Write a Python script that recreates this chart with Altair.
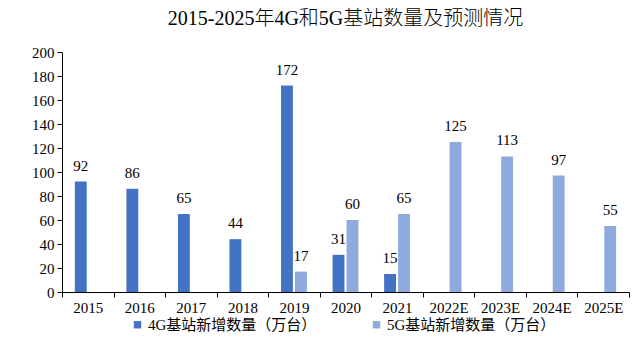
import altair as alt
import pandas as pd

years = ["2015", "2016", "2017", "2018", "2019", "2020", "2021", "2022E", "2023E", "2024E", "2025E"]
series_4g = "4G基站新增数量（万台）"
series_5g = "5G基站新增数量（万台）"
values_4g = [92, 86, 65, 44, 172, 31, 15, None, None, None, None]
values_5g = [None, None, None, None, 17, 60, 65, 125, 113, 97, 55]
y_ticks = [0, 20, 40, 60, 80, 100, 120, 140, 160, 180, 200]

rows = []
for y, a, b in zip(years, values_4g, values_5g):
    if a is not None:
        rows.append({"year": y, "series": series_4g, "value": a})
    if b is not None:
        rows.append({"year": y, "series": series_5g, "value": b})
df = pd.DataFrame(rows)

FONT = "Liberation Serif, Noto Sans CJK SC"

x = alt.X("year:N", sort=years, title=None,
          scale=alt.Scale(paddingInner=0, paddingOuter=0),
          axis=alt.Axis(labelAngle=0, tickBand="extent", domainColor="black",
                        tickColor="black", tickSize=5, labelFontSize=15,
                        labelFont=FONT, labelColor="black", labelPadding=3))
xo = alt.XOffset("series:N", sort=[series_4g, series_5g],
                 scale=alt.Scale(domain=[series_4g, series_5g], paddingInner=0.15, paddingOuter=0.92))
y = alt.Y("value:Q", title=None,
          scale=alt.Scale(domain=[0, 200], nice=False),
          axis=alt.Axis(values=y_ticks, grid=False, domainColor="black", tickColor="black",
                        tickSize=5, labelFontSize=15, labelFont=FONT, labelColor="black",
                        labelPadding=3, minExtent=49, labelOverlap=False))
color = alt.Color("series:N", sort=[series_4g, series_5g], title=None,
                  scale=alt.Scale(domain=[series_4g, series_5g], range=["#4472C4", "#8FAADC"]),
                  legend=alt.Legend(orient="none", direction="horizontal", legendX=68, legendY=265,
                                    symbolType="square", symbolSize=55, symbolStrokeWidth=0,
                                    labelFontSize=15, labelFont=FONT, labelColor="black",
                                    labelLimit=400, columnPadding=52, labelOffset=3))

base = alt.Chart(df).encode(x=x, xOffset=xo, y=y)
bars = base.mark_bar().encode(color=color)
labels = base.mark_text(baseline="alphabetic", dy=-11, fontSize=15, font=FONT, color="black").encode(
    text="value:Q")

chart = (bars + labels).properties(
    width=567, height=240,
    padding={"left": 5, "top": 1, "right": 2, "bottom": 5},
    title=alt.TitleParams("2015-2025年4G和5G基站数量及预测情况", fontSize=20, font=FONT,
                          fontWeight=300, color="black", offset=16, anchor="middle"),
).configure_view(stroke=None)

chart.save("out.html", embed_options={"renderer": "svg", "actions": False})
